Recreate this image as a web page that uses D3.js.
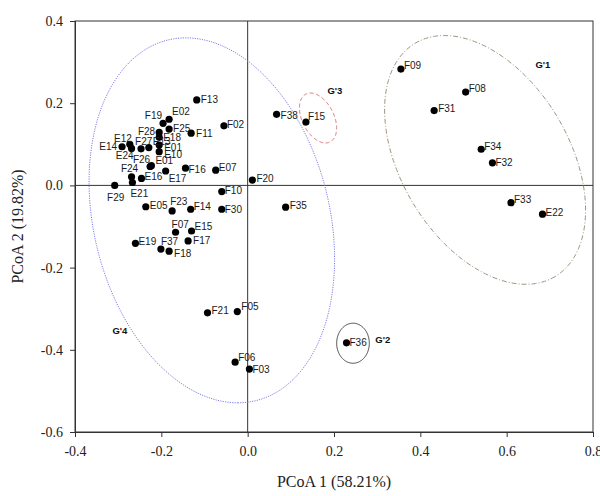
<!DOCTYPE html>
<html><head><meta charset="utf-8">
<script src="https://cdn.jsdelivr.net/npm/d3@7"></script>
<style>body{margin:0;background:#fff}svg{display:block}</style>
</head><body>
<svg id="chart" width="600" height="496"></svg>
<script>
// ---- data ----
const sampleNames = ["F09","F08","F31","F34","F32","F33","E22","F36","F38","F15","F20","F35",
  "F13","E02","F19","F25","F02","F11","F28","E18","E12","E14","E24","F27","E13","E01","E10",
  "F26","E01","F24","E21","E16","E17","F16","E07","F29","F10","E05","F23","F14","F30","F07",
  "E15","F17","E19","F37","F18","F21","F05","F06","F03"];
const pcoa1 = [0.355,0.505,0.432,0.541,0.567,0.610,0.683,0.229,0.067,0.135,0.011,0.088,
  -0.118,-0.182,-0.196,-0.182,-0.055,-0.131,-0.205,-0.205,-0.273,-0.291,-0.269,-0.247,-0.229,-0.205,-0.205,
  -0.226,-0.223,-0.269,-0.267,-0.246,-0.190,-0.144,-0.074,-0.308,-0.060,-0.236,-0.175,-0.132,-0.060,-0.167,
  -0.130,-0.138,-0.260,-0.201,-0.182,-0.093,-0.024,-0.029,0.004];
const pcoa2 = [0.283,0.227,0.182,0.088,0.055,-0.042,-0.070,-0.383,0.173,0.154,0.013,-0.053,
  0.208,0.161,0.151,0.137,0.145,0.127,0.129,0.117,0.100,0.094,0.090,0.089,0.092,0.098,0.082,
  0.046,0.048,0.021,0.007,0.017,0.035,0.042,0.037,0.000,-0.015,-0.052,-0.062,-0.058,-0.058,-0.114,
  -0.111,-0.135,-0.141,-0.155,-0.160,-0.310,-0.307,-0.430,-0.447];
const xTicks = [-0.4,-0.2,0.0,0.2,0.4,0.6,0.8];
const yTicks = [-0.6,-0.4,-0.2,0.0,0.2,0.4];
const xTitle = "PCoA 1 (58.21%)";
const yTitle = "PCoA 2 (19.82%)";
// group ellipses (centre and two conjugate semi-axes, in data units)
const groupNames = ["G'1","G'2","G'3","G'4"];
const groupCentres = [[0.550,0.062],[0.244,-0.384],[0.163,0.164],[-0.083,-0.085]];
const groupAxisA = [[0.1623,-0.2837],[0,-0.0487],[0.0174,-0.0608],[0.060,-0.444]];
const groupAxisB = [[-0.1669,-0.1053],[0.0378,0],[0.0394,0],[0.278,0]];
const groupLabelAt = [[0.684,0.295],[0.313,-0.376],[0.202,0.230],[-0.296,-0.352]];

// ---- styles / layout ----
const groupStyles = [
  {stroke:"#a09482", dash:"5,2,1,2", w:1},
  {stroke:"#333", dash:null, w:0.9},
  {stroke:"#d07a7a", dash:"4,2.5", w:1},
  {stroke:"#7b7bea", dash:"1.2,1.2", w:1}
];
// label placement per point index: [anchor, dx, dy(centre)]
const defaultLab = ["start",4,-2];
const labelLayout = {
  "F09":["start",3,-4],"F08":["start",3,-4],"F31":["start",4,-2],"F34":["start",3,-3],"F32":["start",3,0],
  "F33":["start",3,-3],"E22":["start",3,-2],"F36":["start",3,0],"F38":["start",4,1],"F15":["start",2,-6],
  "F13":["start",4,-1],"E02":["start",3,-8],"F19":["end",-1,-8],"F25":["start",4,-1],"F02":["start",3,-1],
  "F11":["start",5,0],"F28":["end",-4,-1],"E18":["start",4,0],"E12":["end",2,-6],"E14":["end",-5,0],
  "E24":["end",2,7],"F27":["start",-6,-7],"E13":["start",4,-6],"E01":["start",5,2],"E10":["start",5,3],
  "F24":["middle",-2,-8],"E21":["start",-2,11],"E16":["start",3,-2],"E17":["start",3,7],"F16":["start",3,1],
  "E07":["start",3,-3],"F29":["middle",1,12],"F10":["start",3,-1],"E05":["start",4,-1],"F23":["start",-2,-9],
  "F14":["start",3,-3],"F30":["start",3,0],"F07":["start",-4,-8],"E15":["start",3,-5],"F17":["start",5,0],
  "E19":["start",3,-2],"F37":["start",0,-8],"F18":["start",5,2],"F21":["start",4,-2],"F05":["start",4,-5],
  "F06":["start",3,-5],"F03":["start",3,0]
};
const labelOverride = {27:["end",0,-7], 28:["start",4,-5]}; // F26, second E01

const W = 600, H = 496;
const margin = {left:75, right:7, top:21, bottom:64};
const svg = d3.select("#chart");

const x = d3.scaleLinear().domain([-0.4,0.8]).range([margin.left, W - margin.right]);
const y = d3.scaleLinear().domain([-0.6,0.4]).range([H - margin.bottom, margin.top]);
const fmt = v => d3.format(".1f")(v).replace("\u2212","-");

// frame
svg.append("rect").attr("x",x(-0.4)).attr("y",y(0.4))
  .attr("width",x(0.8)-x(-0.4)).attr("height",y(-0.6)-y(0.4))
  .attr("fill","none").attr("stroke","#333").attr("stroke-width",1);

// axes
const gx = svg.append("g").attr("transform",`translate(0,${y(-0.6)})`)
  .call(d3.axisBottom(x).tickValues(xTicks).tickFormat(fmt).tickSize(5).tickPadding(9));
const gy = svg.append("g").attr("transform",`translate(${x(-0.4)},0)`)
  .call(d3.axisLeft(y).tickValues(yTicks).tickFormat(fmt).tickSize(5).tickPadding(7));
[gx,gy].forEach(g=>{
  g.select(".domain").attr("stroke","#333");
  g.selectAll(".tick line").attr("stroke","#333");
  g.selectAll("text").attr("font-family","'Liberation Serif','Times New Roman',serif")
    .attr("font-size",14).attr("fill","#222");
});

// zero lines
svg.append("line").attr("x1",x(-0.4)).attr("x2",x(0.8)).attr("y1",y(0)).attr("y2",y(0))
  .attr("stroke","#333").attr("stroke-width",1);
svg.append("line").attr("x1",x(0)).attr("x2",x(0)).attr("y1",y(0.4)).attr("y2",y(-0.6))
  .attr("stroke","#333").attr("stroke-width",1);

// axis titles
svg.append("text").attr("x",(x(-0.4)+x(0.8))/2).attr("y",487).attr("text-anchor","middle")
  .attr("font-family","'Liberation Serif','Times New Roman',serif").attr("font-size",16).attr("fill","#222")
  .text(xTitle);
svg.append("text").attr("transform",`translate(23,${(y(0.4)+y(-0.6))/2}) rotate(-90)`)
  .attr("text-anchor","middle")
  .attr("font-family","'Liberation Serif','Times New Roman',serif").attr("font-size",16).attr("fill","#222")
  .text(yTitle);

// ellipses
const line = d3.line().x(d=>x(d[0])).y(d=>y(d[1])).curve(d3.curveLinearClosed);
groupNames.forEach((g,i)=>{
  const c = groupCentres[i], a = groupAxisA[i], b = groupAxisB[i];
  const pts = d3.range(0,360,2).map(deg=>{
    const t = deg*Math.PI/180;
    return [c[0]+Math.cos(t)*a[0]+Math.sin(t)*b[0], c[1]+Math.cos(t)*a[1]+Math.sin(t)*b[1]];
  });
  const st = groupStyles[i];
  svg.append("path").attr("d",line(pts)).attr("fill","none")
    .attr("stroke",st.stroke).attr("stroke-width",st.w)
    .attr("stroke-dasharray",st.dash);
  svg.append("text").attr("x",x(groupLabelAt[i][0])).attr("y",y(groupLabelAt[i][1])+3.5)
    .attr("text-anchor","middle").attr("font-family","'Liberation Sans',Arial,sans-serif")
    .attr("font-size",9.5).attr("font-weight","bold").attr("fill","#111").text(g);
});

// points
const pts = sampleNames.map((n,i)=>({name:n, px:pcoa1[i], py:pcoa2[i], i}));
svg.append("g").selectAll("circle").data(pts).join("circle")
  .attr("cx",d=>x(d.px)).attr("cy",d=>y(d.py)).attr("r",3.6).attr("fill","#000");
svg.append("g").selectAll("text").data(pts).join("text")
  .each(function(d){
    const L = labelOverride[d.i] || labelLayout[d.name] || defaultLab;
    d3.select(this).attr("x",x(d.px)+L[1]).attr("y",y(d.py)+L[2]+3.6).attr("text-anchor",L[0]);
  })
  .attr("font-family","'Liberation Sans',Arial,sans-serif").attr("font-size",10)
  .attr("fill","#1a1a1a").text(d=>d.name);
</script>
</body></html>
